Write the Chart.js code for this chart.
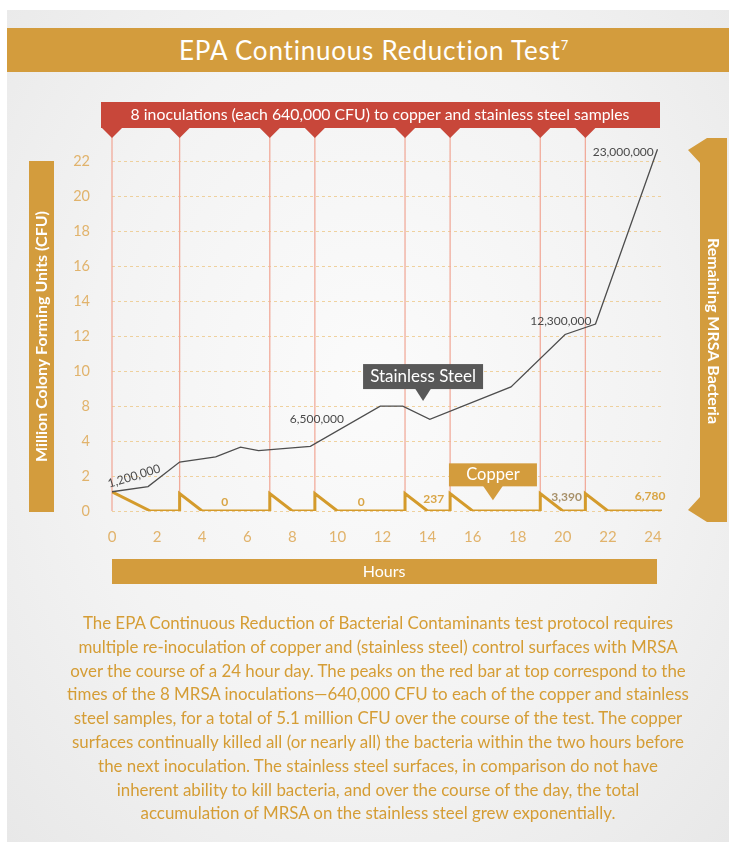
<!DOCTYPE html>
<html>
<head>
<meta charset="utf-8">
<script src="https://cdn.jsdelivr.net/npm/chart.js@4.4.1/dist/chart.umd.min.js"></script>
<style>
  html, body { margin: 0; padding: 0; width: 729px; height: 842px; background: #fff; overflow: hidden; font-family: Lato, "Open Sans", sans-serif; }
  #card { position: absolute; left: 7px; top: 10px; width: 722px; height: 832px; background: radial-gradient(ellipse at 50% 45%, #fbfbfb 0%, #f3f3f3 55%, #e8e8e8 100%); }
  #title { position: absolute; left: 7px; top: 28px; width: 722px; height: 44px; background: #d39c3d; color: #fff; font-size: 26px; letter-spacing: 0.8px; line-height: 44px; text-align: center; padding-left: 12px; box-sizing: border-box; }
  #title sup { font-size: 13px; vertical-align: 10px; line-height: 0; }
  #wrap { position: absolute; left: 0; top: 0; width: 729px; height: 842px; }
  #note { position: absolute; left: 20px; width: 716px; top: 611px; text-align: center; color: #d59d35; font-size: 16.9px; line-height: 23.8px; }
</style>
</head>
<body>
<div id="card"></div>
<div id="title">EPA Continuous Reduction Test<sup>7</sup></div>
<div id="wrap"><canvas id="myChart" width="729" height="842"></canvas></div>
<div id="note">The EPA Continuous Reduction of Bacterial Contaminants test protocol requires<br>multiple re-inoculation of copper and (stainless steel) control surfaces with MRSA<br>over the course of a 24 hour day. The peaks on the red bar at top correspond to the<br>times of the 8 MRSA inoculations—640,000 CFU to each of the copper and stainless<br>steel samples, for a total of 5.1 million CFU over the course of the test. The copper<br>surfaces continually killed all (or nearly all) the bacteria within the two hours before<br>the next inoculation. The stainless steel surfaces, in comparison do not have<br>inherent ability to kill bacteria, and over the course of the day, the total<br>accumulation of MRSA on the stainless steel grew exponentially.</div>
<script>
// Dados do gráfico
var hourTicks = [0, 2, 4, 6, 8, 10, 12, 14, 16, 18, 20, 22, 24];
var yTickValues = [0, 2, 4, 6, 8, 10, 12, 14, 16, 18, 20];
var yTickLabels = ['0', '2', '4', '8', '10', '12', '14', '16', '18', '20', '22'];
var inoculationHours = [0, 3, 7, 9, 13, 15, 19, 21];

var steelHours = [0, 1.6, 3.0, 4.6, 5.7, 6.5, 8.8, 11.9, 12.9, 14.1, 17.7, 20.1, 21.45, 24.2];
var steelValues = [1.1, 1.4, 2.8, 3.1, 3.65, 3.45, 3.7, 6.0, 6.0, 5.25, 7.1, 10.1, 10.7, 20.7];

var copperHours = [0, 1.7, 3, 3, 4, 7, 7, 8, 9, 9, 10, 13, 13, 14, 15, 15, 16, 19, 19, 20, 21, 21, 22, 24.4];
var copperValues = [1.1, 0, 0, 1.0, 0, 0, 1.0, 0, 0, 1.0, 0, 0, 1.0, 0, 0, 1.0, 0, 0, 1.0, 0, 0, 1.0, 0, 0];

var steelLabels = ['1,200,000', '6,500,000', '12,300,000', '23,000,000'];
var copperLabels = ['0', '0', '237', '3,390', '6,780'];

var GOLD = '#d39c3d';
var RED = '#c8473a';
var FONT = 'Lato, "Open Sans", sans-serif';

function pts(xs, ys) {
    return xs.map(function (h, i) { return { x: h, y: ys[i] }; });
}

// Desenhos extras: barra vermelha, linhas de inoculação, barras laterais, rótulos
var decor = {
    id: 'decor',
    beforeDatasetsDraw: function (chart) {
        var ctx = chart.ctx, xs = chart.scales.x, ys = chart.scales.y;
        ctx.save();
        ctx.strokeStyle = '#f1ab9b';
        ctx.lineWidth = 1.3;
        inoculationHours.forEach(function (h) {
            var px = xs.getPixelForValue(h);
            ctx.beginPath();
            ctx.moveTo(px, 128);
            ctx.lineTo(px, ys.getPixelForValue(0));
            ctx.stroke();
        });
        ctx.restore();
    },
    afterDraw: function (chart) {
        var ctx = chart.ctx, xs = chart.scales.x, ys = chart.scales.y;
        ctx.save();
        ctx.textAlign = 'center';
        ctx.textBaseline = 'middle';

        // barra vermelha
        ctx.fillStyle = RED;
        ctx.fillRect(101, 102, 559, 26);
        inoculationHours.forEach(function (h) {
            var px = xs.getPixelForValue(h);
            ctx.beginPath();
            ctx.moveTo(px - 11, 127);
            ctx.lineTo(px + 11, 127);
            ctx.lineTo(px, 138);
            ctx.closePath();
            ctx.fill();
        });
        ctx.fillStyle = '#fff';
        ctx.font = '15.8px ' + FONT;
        ctx.fillText('8 inoculations (each 640,000 CFU) to copper and stainless steel samples', 380, 115);

        // barra do eixo y
        ctx.fillStyle = GOLD;
        ctx.fillRect(29, 161, 25, 351);
        ctx.save();
        ctx.translate(42, 336.5);
        ctx.rotate(-Math.PI / 2);
        ctx.fillStyle = '#fff';
        ctx.font = 'bold 16px ' + FONT;
        ctx.fillText('Million Colony Forming Units (CFU)', 0, 0);
        ctx.restore();

        // barra direita com setas
        ctx.fillStyle = GOLD;
        ctx.beginPath();
        ctx.moveTo(707, 138);
        ctx.lineTo(727, 138);
        ctx.lineTo(727, 522);
        ctx.lineTo(707, 522);
        ctx.lineTo(688, 510);
        ctx.lineTo(700, 497);
        ctx.lineTo(700, 163);
        ctx.lineTo(688, 150);
        ctx.closePath();
        ctx.fill();
        ctx.save();
        ctx.translate(713, 331);
        ctx.rotate(Math.PI / 2);
        ctx.fillStyle = '#fff';
        ctx.font = 'bold 16px ' + FONT;
        ctx.fillText('Remaining MRSA Bacteria', 0, 0);
        ctx.restore();

        // barra "Hours"
        ctx.fillStyle = GOLD;
        ctx.fillRect(112, 559, 545, 25);
        ctx.fillStyle = '#fff';
        ctx.font = '16px ' + FONT;
        ctx.fillText('Hours', 384, 571.5);

        // rótulos do aço
        var steelPos = [[0.98, 1.99], [9.09, 5.26], [19.91, 10.87], [22.68, 20.55]];
        ctx.fillStyle = '#4a4a4a';
        ctx.font = '12px ' + FONT;
        steelLabels.forEach(function (t, i) {
            var px = xs.getPixelForValue(steelPos[i][0]);
            var py = ys.getPixelForValue(steelPos[i][1]);
            ctx.save();
            ctx.translate(px, py);
            if (i === 0) ctx.rotate(-17 * Math.PI / 180);
            ctx.fillText(t, 0, 0);
            ctx.restore();
        });

        // rótulos do cobre
        var copperPos = [[5.0, 0.5], [11.06, 0.5], [14.27, 0.67], [20.17, 0.79], [23.87, 0.84]];
        ctx.font = 'bold 12px ' + FONT;
        copperLabels.forEach(function (t, i) {
            ctx.fillStyle = i === 3 ? '#a8916a' : '#d9a545';
            ctx.fillText(t, xs.getPixelForValue(copperPos[i][0]), ys.getPixelForValue(copperPos[i][1]));
        });

        // balão "Stainless Steel"
        var sx = xs.getPixelForValue(13.8), sy = ys.getPixelForValue(6.29);
        ctx.fillStyle = '#585858';
        ctx.fillRect(sx - 60, sy - 37, 120, 25);
        ctx.beginPath();
        ctx.moveTo(sx - 8, sy - 12.5);
        ctx.lineTo(sx + 8, sy - 12.5);
        ctx.lineTo(sx, sy);
        ctx.closePath();
        ctx.fill();
        ctx.fillStyle = '#fff';
        ctx.font = '17px ' + FONT;
        ctx.fillText('Stainless Steel', sx, sy - 24.5);

        // balão "Copper"
        var cx = xs.getPixelForValue(16.9), cy = ys.getPixelForValue(0.61);
        ctx.fillStyle = GOLD;
        ctx.fillRect(cx - 44, cy - 37, 88, 23);
        ctx.beginPath();
        ctx.moveTo(cx - 10, cy - 14.5);
        ctx.lineTo(cx + 10, cy - 14.5);
        ctx.lineTo(cx, cy);
        ctx.closePath();
        ctx.fill();
        ctx.fillStyle = '#fff';
        ctx.font = '16.5px ' + FONT;
        ctx.fillText('Copper', cx, cy - 25.5);

        ctx.restore();
    }
};

var config = {
    type: 'line',
    data: {
        datasets: [{
            label: 'Stainless Steel',
            data: pts(steelHours, steelValues),
            borderColor: '#4d4d4d',
            borderWidth: 1.3,
            pointRadius: 0,
            tension: 0,
            fill: false
        }, {
            label: 'Copper',
            data: pts(copperHours, copperValues),
            borderColor: '#d49b2c',
            borderWidth: 3,
            borderJoinStyle: 'miter',
            pointRadius: 0,
            tension: 0,
            fill: false
        }]
    },
    options: {
        responsive: false,
        animation: false,
        layout: { padding: { left: 0, right: 67, top: 144, bottom: 291 } },
        plugins: { legend: { display: false }, tooltip: { enabled: false } },
        scales: {
            x: {
                type: 'linear',
                min: 0,
                max: 24.4,
                grid: { display: false, drawTicks: false },
                border: { display: false },
                ticks: { color: '#e1b36c', font: { size: 15, family: FONT }, padding: 17 },
                afterBuildTicks: function (scale) {
                    scale.ticks = hourTicks.map(function (v) { return { value: v }; });
                },
                afterFit: function (scale) { scale.height = 40; }
            },
            y: {
                min: 0,
                max: 21,
                grid: { color: 'rgba(236, 196, 128, 0.75)', lineWidth: 1, drawTicks: false },
                border: { display: false, dash: [3, 3] },
                ticks: {
                    color: '#e1b36c',
                    font: { size: 14.5, family: FONT },
                    padding: 22,
                    callback: function (v) { return yTickLabels[yTickValues.indexOf(v)]; }
                },
                afterBuildTicks: function (scale) {
                    scale.ticks = yTickValues.map(function (v) { return { value: v }; });
                },
                afterFit: function (scale) { scale.width = 112; }
            }
        }
    },
    plugins: [decor]
};

// Renderização do gráfico
var ctx = document.getElementById('myChart').getContext('2d');
new Chart(ctx, config);
</script>
</body>
</html>
